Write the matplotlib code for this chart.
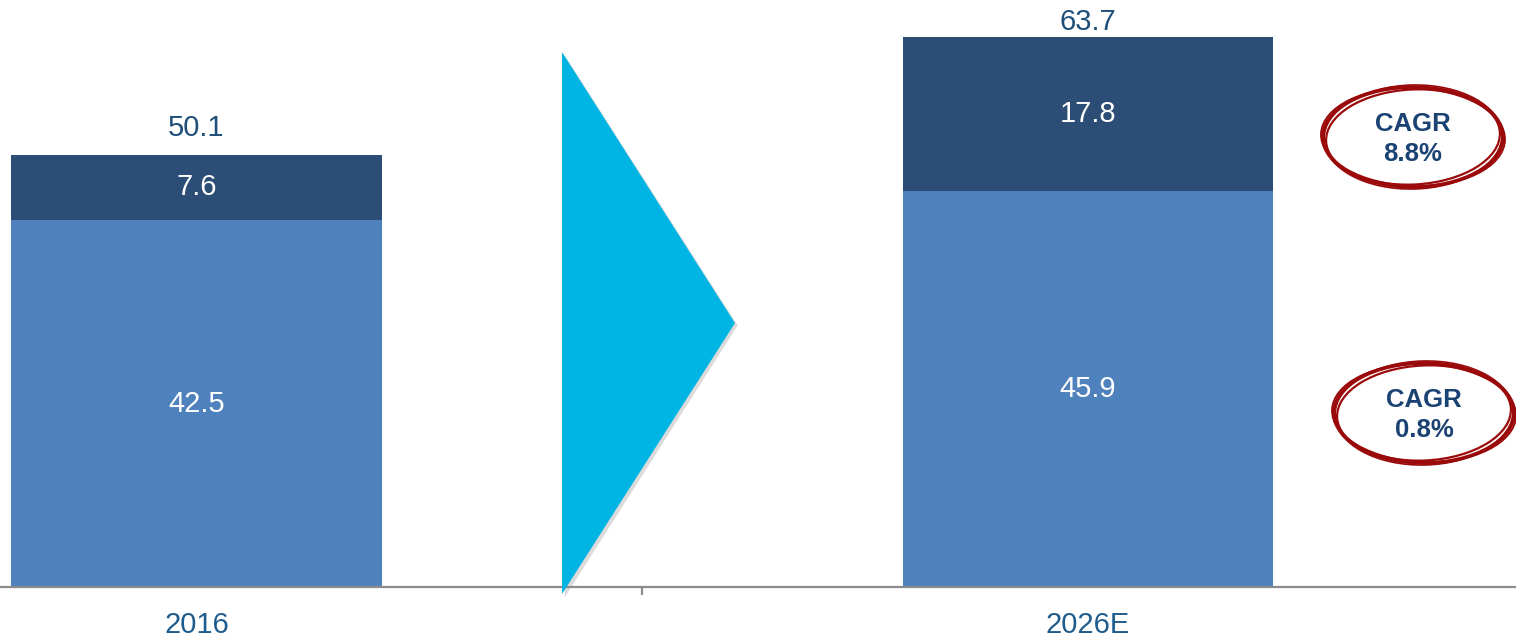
import matplotlib
matplotlib.use("Agg")
from matplotlib import pyplot as plt
from matplotlib.patches import Polygon, Ellipse
from matplotlib.transforms import IdentityTransform

plt.rcParams['font.family'] = ['Liberation Sans', 'DejaVu Sans']

years = ['2016', '2026E']
base_values = [42.5, 45.9]
top_values = [7.6, 17.8]
totals = [50.1, 63.7]
cagr_labels = ['CAGR\n8.8%', 'CAGR\n0.8%']

base_color = '#4F81BD'
top_color = '#2C4D75'
text_blue = '#1F4E79'

fig = plt.figure(figsize=(15.16, 6.36), dpi=100)
ax = fig.add_axes([0, 49 / 636, 1, 587 / 636])

x = list(range(len(years)))
ax.bar(x, base_values, width=0.416, color=base_color, zorder=2)
ax.bar(x, top_values, width=0.416, bottom=base_values, color=top_color, zorder=2)

for i in x:
    ax.text(i, base_values[i] / 2, f'{base_values[i]}', ha='center', va='center',
            color='white', fontsize=21)
    ax.text(i, base_values[i] + top_values[i] / 2, f'{top_values[i]}', ha='center',
            va='center', color='white', fontsize=21)

# total labels above the bars
offsets = [27, 15]
for i in x:
    ax.annotate(f'{totals[i]}', (i, totals[i]), xytext=(0, offsets[i]),
                textcoords='offset pixels', ha='center', va='center',
                color=text_blue, fontsize=21, annotation_clip=False)

ax.set_xlim(-0.2204, 1.480)
ax.set_ylim(0, 68)

# arrow between the bars
shadow = Polygon([(0.413, 61.6), (0.607, 30.3), (0.413, -1.2)], closed=True,
                 facecolor='#999999', alpha=0.35, edgecolor='none',
                 clip_on=False, zorder=2)
ax.add_patch(shadow)
tri = Polygon([(0.410, 61.96), (0.604, 30.58), (0.410, -0.81)], closed=True,
              facecolor='#00B4E3', edgecolor='none', clip_on=False, zorder=3)
ax.add_patch(tri)

for s in ['top', 'right', 'left']:
    ax.spines[s].set_visible(False)
ax.spines['bottom'].set_color('#8C8C8C')
ax.spines['bottom'].set_linewidth(1.6)
ax.set_yticks([])
ax.set_xticks(x)
ax.set_xticklabels(years, color='#1F5C8E', fontsize=21)
ax.tick_params(axis='x', which='major', length=0, pad=17)
ax.set_xticks([0.5], minor=True)
ax.tick_params(axis='x', which='minor', length=6, width=1.6, color='#8C8C8C')

# hand drawn CAGR circles (pixel coordinates, y from bottom)
circles = [(1413, 636 - 137), (1424, 636 - 413)]
strokes = [(180, 100, 0, 2.6), (174, 95, 3, 1.6), (184, 98, -2, 1.4), (178, 104, 1.5, 1.2)]
for (cx, cy), label in zip(circles, cagr_labels):
    for w, h, ang, lw in strokes:
        ax.add_artist(Ellipse((cx, cy), w, h, angle=ang, fill=False,
                              edgecolor='#9B0A0A', linewidth=lw,
                              transform=IdentityTransform(), clip_on=False))
    fig.text(cx / 1516, (cy - 2) / 636, label, ha='center', va='center',
             color='#1A4272', fontsize=18.5, fontweight='bold', linespacing=1.3)

fig.savefig('out.png', dpi=100)
